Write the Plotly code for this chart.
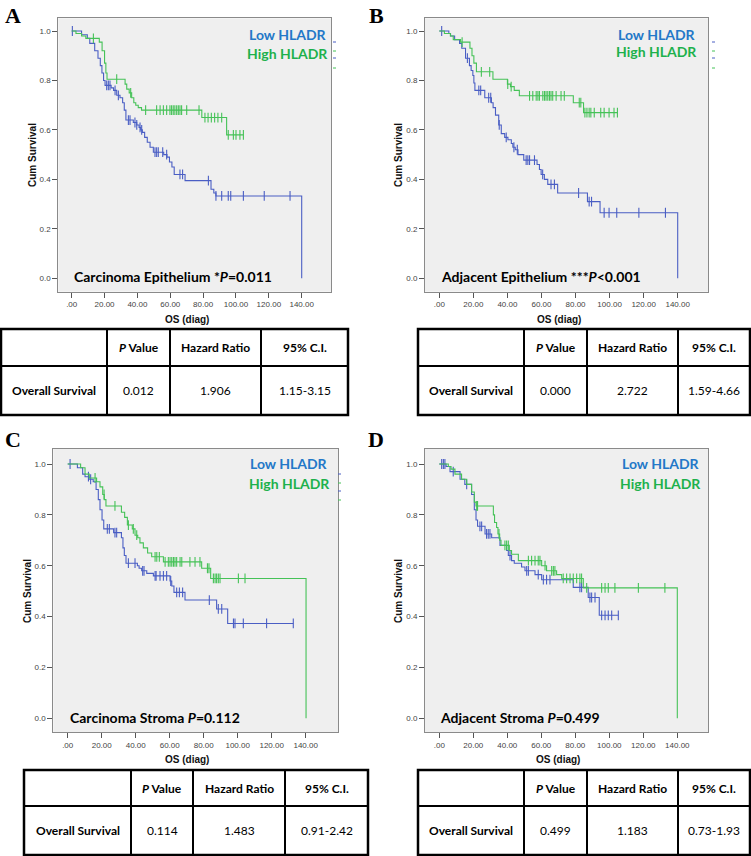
import plotly.graph_objects as go

W, H = 751, 856

# ---------------- data ----------------
# Panel A: Carcinoma Epithelium
A_low_t = [0, 6, 9.5, 11, 14, 16, 17.4, 18.4, 19.4, 20.3, 24, 25.5, 27.4, 29.4, 31, 32, 33, 37.5, 39.6, 41, 42, 43, 44.4, 46, 47.7, 49.7, 56, 58, 59.5, 61, 62.4, 69, 84.8, 86.5, 87.8, 140]
A_low_s = [1.0, 0.985, 0.97, 0.95, 0.92, 0.89, 0.86, 0.83, 0.80, 0.78, 0.77, 0.76, 0.74, 0.73, 0.71, 0.68, 0.64, 0.63, 0.62, 0.61, 0.60, 0.59, 0.57, 0.55, 0.53, 0.51, 0.50, 0.49, 0.47, 0.45, 0.42, 0.395, 0.36, 0.345, 0.333, 0.0]
A_low_c = [0.4, 21.3, 22.3, 23.3, 26.4, 28.4, 34.5, 35.5, 38.5, 39.6, 41.6, 42.6, 50.7, 51.7, 52.7, 55.4, 57.8, 65.9, 67.5, 83.2, 87.8, 91.3, 95.3, 96.8, 104.5, 117.2, 132.9]
A_high_t = [0, 2.6, 6, 8.6, 16.8, 18.5, 20, 20.8, 21.5, 32.5, 33.5, 35, 36.5, 37.8, 39, 40.5, 42.5, 79.2, 94.3]
A_high_s = [1.0, 0.99, 0.98, 0.97, 0.955, 0.92, 0.87, 0.83, 0.805, 0.785, 0.765, 0.75, 0.73, 0.71, 0.70, 0.69, 0.68, 0.65, 0.58]
A_high_c = [13.2, 27.4, 35.9, 45, 51.7, 53.8, 55.8, 57.8, 59.8, 60.8, 61.8, 62.8, 63.9, 64.9, 65.9, 66.9, 70, 77.5, 81.1, 83, 85, 87, 89, 91.3, 95.3, 98.4, 100, 102.4, 104.5]

# Panel B: Adjacent Epithelium
B_low_t = [0, 5.6, 6.6, 9, 11.9, 13.2, 15.4, 17.7, 18.7, 19.7, 20.3, 20.9, 26.7, 30.6, 31.6, 33, 34.9, 36.4, 38.4, 40.3, 42.3, 43.2, 44.6, 46.2, 49.6, 57.4, 58.8, 59.8, 61.7, 63.7, 69.5, 87, 94.4, 140]
B_low_s = [1.0, 0.99, 0.98, 0.965, 0.95, 0.93, 0.89, 0.86, 0.84, 0.82, 0.79, 0.76, 0.73, 0.71, 0.69, 0.66, 0.62, 0.585, 0.57, 0.56, 0.545, 0.53, 0.52, 0.50, 0.478, 0.46, 0.44, 0.42, 0.40, 0.38, 0.345, 0.31, 0.265, 0.0]
B_low_c = [1.4, 16.5, 23.2, 24.3, 29, 30.2, 35.2, 39.3, 43.8, 45.8, 51, 52, 53, 55.9, 60.7, 65.6, 67.6, 81.8, 88, 89.4, 96.8, 99.7, 104.2, 117.2, 132.8]
B_high_t = [0, 3, 6.5, 8.2, 12.5, 18, 19.2, 20.3, 21.8, 31.5, 40, 41.8, 44, 47, 78.7, 84.7]
B_high_s = [1.0, 0.99, 0.98, 0.965, 0.955, 0.93, 0.90, 0.87, 0.835, 0.805, 0.785, 0.775, 0.76, 0.738, 0.71, 0.67]
B_high_c = [13.4, 24.7, 29.6, 40.2, 42.2, 53, 54.9, 56.9, 57.9, 58.8, 60.8, 61.8, 62.7, 63.7, 64.7, 65.6, 66.6, 68.6, 71.5, 73.4, 82.2, 83.1, 85.5, 86.7, 88, 89, 91, 94.8, 96.8, 99.7, 102.6, 104.6]

# Panel C: Carcinoma Stroma
C_low_t = [0, 5.7, 8.8, 10.2, 12.5, 15, 16.7, 18, 19, 20.2, 21.2, 27, 31.6, 32.5, 33.3, 34.3, 41, 42, 43.5, 46.5, 50.4, 60.2, 61.2, 62.5, 69, 87.6, 94.1]
C_low_s = [1.0, 0.985, 0.96, 0.95, 0.94, 0.93, 0.90, 0.86, 0.82, 0.78, 0.745, 0.73, 0.71, 0.67, 0.64, 0.61, 0.60, 0.59, 0.58, 0.57, 0.56, 0.54, 0.52, 0.495, 0.465, 0.43, 0.373]
C_low_c = [1.4, 12.2, 13.5, 23.3, 24.5, 27.8, 28.8, 35.7, 39.6, 44.1, 44.9, 51.4, 52, 54.3, 56.3, 58.2, 60.6, 64.1, 65.7, 67.6, 83.3, 88.6, 90.6, 97.5, 98.4, 103.3, 117, 132.7]
C_high_t = [0, 7.6, 10.2, 12.7, 17, 19, 20.6, 21.5, 22.5, 31.6, 33.5, 35.1, 38, 39.6, 41.2, 42.5, 44.5, 47, 49.4, 56.3, 78.8, 84.1, 140.2]
C_high_s = [1.0, 0.985, 0.96, 0.945, 0.93, 0.91, 0.88, 0.86, 0.835, 0.81, 0.79, 0.76, 0.745, 0.72, 0.71, 0.69, 0.67, 0.65, 0.635, 0.615, 0.59, 0.55, 0.0]
C_high_c = [16.1, 21.4, 27.8, 35.7, 38.6, 40.6, 51.4, 52.4, 53.9, 57.3, 59.2, 60.2, 61.2, 62.2, 63.1, 64.1, 66.1, 67.1, 71.9, 74.9, 77.8, 82.2, 83.1, 85.7, 86.7, 87.6, 88.6, 89.6, 100.4, 104.3]

# Panel D: Adjacent Stroma
D_low_t = [0, 4, 6.3, 12.2, 15, 19, 20.6, 21.6, 22.5, 26.9, 30.8, 35.7, 39.6, 40.6, 42.5, 44.1, 48.4, 50.4, 56.3, 60.2, 78.8, 87.6, 94.1]
D_low_s = [1.0, 0.99, 0.97, 0.94, 0.92, 0.88, 0.82, 0.78, 0.755, 0.725, 0.71, 0.68, 0.66, 0.64, 0.62, 0.61, 0.595, 0.58, 0.565, 0.545, 0.515, 0.475, 0.405]
D_low_c = [1.4, 2.4, 3.3, 8.2, 16.1, 23.9, 24.9, 27.8, 28.8, 29.8, 41.6, 51.4, 52.4, 58.2, 61.2, 63.1, 65.1, 82.7, 83.7, 88.6, 89.6, 91.6, 95.5, 97.5, 99.4, 101.4, 105.3]
D_high_t = [0, 5.3, 6.9, 9.2, 13.1, 16.1, 19, 20.6, 21.6, 31.8, 32.5, 33.7, 34.5, 35.5, 36.3, 41.2, 42.5, 46.5, 60.2, 63.1, 69, 72, 84.7, 140]
D_high_s = [1.0, 0.99, 0.98, 0.96, 0.94, 0.92, 0.89, 0.85, 0.835, 0.80, 0.77, 0.75, 0.725, 0.70, 0.68, 0.66, 0.645, 0.62, 0.60, 0.58, 0.565, 0.55, 0.513, 0.0]
D_high_c = [22, 22.5, 35.1, 38.6, 39.6, 40.6, 52.4, 54.3, 56.3, 58.2, 59.2, 62.2, 66.1, 67.1, 68, 72.9, 74.9, 76.9, 78.8, 80.8, 82.7, 83.7, 86.7, 95.5, 97.5, 99.4, 103.3, 117.1, 132.7]

panel_letters = ["A", "B", "C", "D"]
panel_titles = ["Carcinoma Epithelium *<i>P</i>=0.011",
                "Adjacent Epithelium ***<i>P</i>&lt;0.001",
                "Carcinoma Stroma <i>P</i>=0.112",
                "Adjacent Stroma <i>P</i>=0.499"]
group_names = ["Low HLADR", "High HLADR"]
x_ticks = [0, 20, 40, 60, 80, 100, 120, 140]
x_ticktext = [".00", "20.00", "40.00", "60.00", "80.00", "100.00", "120.00", "140.00"]
y_ticks = [0, 0.2, 0.4, 0.6, 0.8, 1.0]
y_ticktext = ["0.0", "0.2", "0.4", "0.6", "0.8", "1.0"]
table_header = ["", "<i>P</i> Value", "Hazard Ratio", "95% C.I."]
table_rowlabel = "Overall Survival"
table_pvals = ["0.012", "0.000", "0.114", "0.499"]
table_hr = ["1.906", "2.722", "1.483", "1.183"]
table_ci = ["1.15-3.15", "1.59-4.66", "0.91-2.42", "0.73-1.93"]

curves = [
    ((A_low_t, A_low_s, A_low_c), (A_high_t, A_high_s, A_high_c)),
    ((B_low_t, B_low_s, B_low_c), (B_high_t, B_high_s, B_high_c)),
    ((C_low_t, C_low_s, C_low_c), (C_high_t, C_high_s, C_high_c)),
    ((D_low_t, D_low_s, D_low_c), (D_high_t, D_high_s, D_high_c)),
]

# ---------------- layout geometry (pixels) ----------------
LINE_COLORS = ["#4a5ec4", "#45c257"]
TEXT_COLORS = ["#2378c8", "#1db14c"]

geo = [
    dict(frame=(58.3, 18.3, 331, 291.7), x0=71.7, x140=301.7, y1=31, y0=278.3,
         letter=(13, 15), cum=(32, 155), os=(187, 319), title=(72, 276),
         leg=(329, 35, 330, 53), dash=(333, [42, 51, 58, 68]),
         table=dict(l=1, r=348, t=329, m=366, b=415, cols=[107, 170, 261])),
    dict(frame=(425, 18.3, 708.3, 291.7), x0=439.3, x140=677.7, y1=31, y0=278.3,
         letter=(376, 15), cum=(398, 155), os=(558.5, 319), title=(439, 276),
         leg=(698, 34, 699, 52), dash=(712, [42, 51, 58, 68]),
         table=dict(l=418, r=750, t=329, m=366, b=415, cols=[524, 587, 678])),
    dict(frame=(53.3, 449, 338.3, 732.3), x0=67.7, x140=305.7, y1=464, y0=718.3,
         letter=(12.5, 440), cum=(27, 591), os=(186.7, 759), title=(68, 717),
         leg=(330, 464, 332, 483), dash=(338, [474, 483, 491, 500]),
         table=dict(l=24, r=368, t=770, m=806, b=855, cols=[131, 193, 285])),
    dict(frame=(425, 449, 708.3, 732.3), x0=439.3, x140=677.3, y1=464, y0=718.3,
         letter=(376, 440), cum=(398, 591), os=(558.3, 759), title=(438, 717),
         leg=(702, 464, 703, 483), dash=None,
         table=dict(l=418, r=750, t=770, m=806, b=855, cols=[524, 587, 678])),
]


def PX(x):
    return x / W


def PY(y):
    return 1 - y / H


def surv_at(t, s, c):
    v = s[0]
    for ti, si in zip(t, s):
        if ti <= c:
            v = si
    return v


fig = go.Figure()
shapes = []
annotations = []

for i, g in enumerate(geo):
    n = i + 1
    xa = "x" if n == 1 else f"x{n}"
    ya = "y" if n == 1 else f"y{n}"
    fl, ft, fr, fb = g["frame"]
    xs_ = (g["x140"] - g["x0"]) / 140.0
    ys_ = g["y0"] - g["y1"]
    xr = [(fl - g["x0"]) / xs_, (fr - g["x0"]) / xs_]
    yr = [(g["y0"] - fb) / ys_, (g["y0"] - ft) / ys_]

    for k, (t, s, c) in enumerate(curves[i]):
        end = max([t[-1]] + list(c))
        xs = list(t) + [end]
        ys = list(s) + [s[-1]]
        fig.add_trace(go.Scatter(x=xs, y=ys, mode="lines", xaxis=xa, yaxis=ya,
                                 line=dict(shape="hv", color=LINE_COLORS[k], width=1.1),
                                 showlegend=False, hoverinfo="skip"))
        fig.add_trace(go.Scatter(x=list(c), y=[surv_at(t, s, cc) for cc in c], mode="markers",
                                 xaxis=xa, yaxis=ya,
                                 marker=dict(symbol="line-ns", size=7,
                                             line=dict(color=LINE_COLORS[k], width=1.1)),
                                 showlegend=False, hoverinfo="skip"))

    axis_common = dict(showgrid=False, zeroline=False, showline=True, linecolor="#8a8a8a",
                       linewidth=1, mirror=True, ticks="outside", ticklen=5, tickwidth=1,
                       tickcolor="#555", tickfont=dict(family="Liberation Sans", size=8, color="#444"))
    fig.update_layout(**{
        ("xaxis" if n == 1 else f"xaxis{n}"): dict(domain=[PX(fl), PX(fr)], range=xr,
                                                   anchor=ya, tickvals=x_ticks, ticktext=x_ticktext,
                                                   **axis_common),
        ("yaxis" if n == 1 else f"yaxis{n}"): dict(domain=[PY(fb), PY(ft)], range=yr,
                                                   anchor=xa, tickvals=y_ticks, ticktext=y_ticktext,
                                                   **axis_common),
    })

    # panel letter
    annotations.append(dict(x=PX(g["letter"][0]), y=PY(g["letter"][1]), xref="paper", yref="paper",
                            text=f"<b>{panel_letters[i]}</b>", showarrow=False,
                            xanchor="center", yanchor="middle",
                            font=dict(family="Liberation Serif", size=22, color="#000")))
    # axis titles
    annotations.append(dict(x=PX(g["cum"][0]), y=PY(g["cum"][1]), xref="paper", yref="paper",
                            text="<b>Cum Survival</b>", textangle=-90, showarrow=False,
                            xanchor="center", yanchor="middle",
                            font=dict(family="Liberation Sans", size=10, color="#111")))
    annotations.append(dict(x=PX(g["os"][0]), y=PY(g["os"][1]), xref="paper", yref="paper",
                            text="<b>OS (diag)</b>", showarrow=False,
                            xanchor="center", yanchor="middle",
                            font=dict(family="Liberation Sans", size=10, color="#111")))
    # title inside plot
    annotations.append(dict(x=PX(g["title"][0]), y=PY(g["title"][1]), xref="paper", yref="paper",
                            text=f"<b>{panel_titles[i]}</b>", showarrow=False,
                            xanchor="left", yanchor="middle",
                            font=dict(family="Lato", size=14, color="#000")))
    # legend texts
    lx1, ly1, lx2, ly2 = g["leg"]
    annotations.append(dict(x=PX(lx1), y=PY(ly1), xref="paper", yref="paper",
                            text=f"<b>{group_names[0]}</b>", showarrow=False,
                            xanchor="right", yanchor="middle",
                            font=dict(family="Lato", size=14, color=TEXT_COLORS[0])))
    annotations.append(dict(x=PX(lx2), y=PY(ly2), xref="paper", yref="paper",
                            text=f"<b>{group_names[1]}</b>", showarrow=False,
                            xanchor="right", yanchor="middle",
                            font=dict(family="Lato", size=14, color=TEXT_COLORS[1])))
    # tiny legend dashes outside frame
    if g["dash"]:
        dx, dys = g["dash"]
        for j, dy in enumerate(dys):
            shapes.append(dict(type="line", xref="paper", yref="paper",
                               x0=PX(dx), x1=PX(dx + 3), y0=PY(dy), y1=PY(dy),
                               line=dict(color=LINE_COLORS[j % 2], width=1)))

    # table
    tb = g["table"]
    shapes.append(dict(type="rect", xref="paper", yref="paper",
                       x0=PX(tb["l"]), x1=PX(tb["r"]), y0=PY(tb["b"]), y1=PY(tb["t"]),
                       line=dict(color="#000", width=2.5), fillcolor="rgba(0,0,0,0)"))
    shapes.append(dict(type="line", xref="paper", yref="paper",
                       x0=PX(tb["l"]), x1=PX(tb["r"]), y0=PY(tb["m"]), y1=PY(tb["m"]),
                       line=dict(color="#000", width=2)))
    for cx in tb["cols"]:
        shapes.append(dict(type="line", xref="paper", yref="paper",
                           x0=PX(cx), x1=PX(cx), y0=PY(tb["b"]), y1=PY(tb["t"]),
                           line=dict(color="#000", width=2)))
    edges = [tb["l"]] + tb["cols"] + [tb["r"]]
    row1 = table_header
    row2 = [f"<b>{table_rowlabel}</b>", table_pvals[i], table_hr[i], table_ci[i]]
    for ci in range(4):
        cxm = (edges[ci] + edges[ci + 1]) / 2
        if row1[ci]:
            annotations.append(dict(x=PX(cxm), y=PY((tb["t"] + tb["m"]) / 2), xref="paper", yref="paper",
                                    text=f"<b>{row1[ci]}</b>", showarrow=False,
                                    xanchor="center", yanchor="middle",
                                    font=dict(family="Lato", size=12, color="#000")))
        annotations.append(dict(x=PX(cxm), y=PY((tb["m"] + tb["b"]) / 2), xref="paper", yref="paper",
                                text=row2[ci], showarrow=False,
                                xanchor="center", yanchor="middle",
                                font=dict(family="Lato", size=12, color="#000")))

fig.update_layout(width=W, height=H, margin=dict(l=0, r=0, t=0, b=0),
                  paper_bgcolor="white", plot_bgcolor="#efefef",
                  shapes=shapes, annotations=annotations, showlegend=False)

fig.write_html("out.html", config={"displayModeBar": False},
               post_script="document.body.style.margin='0';document.body.style.padding='0';"
                           "document.documentElement.style.overflow='hidden';")
